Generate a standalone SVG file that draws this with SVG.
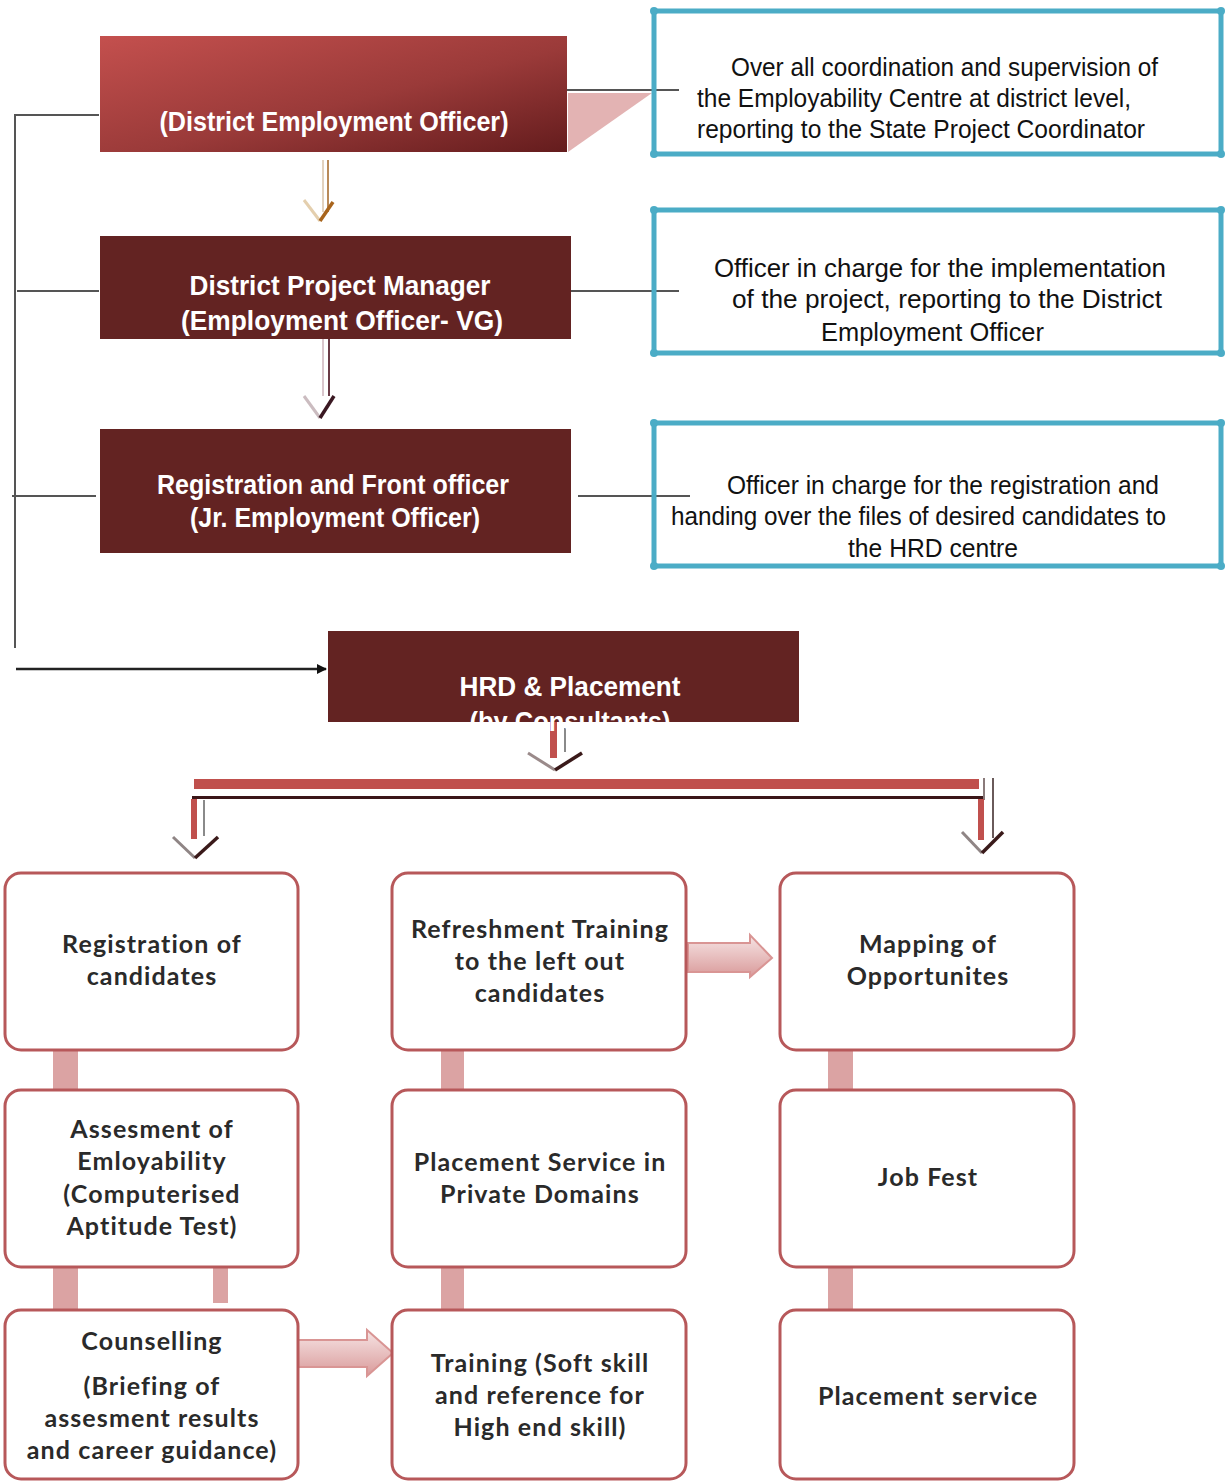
<svg xmlns="http://www.w3.org/2000/svg" width="1226" height="1482" viewBox="0 0 1226 1482">
<defs>
<style>
.mtxt{font-family:"Liberation Sans",Arial,sans-serif;font-weight:bold;font-size:27px;fill:#ffffff;text-anchor:middle}
.ttxt{font-family:"Liberation Sans",Arial,sans-serif;font-size:25px;fill:#111111}
.btxt{font-family:Lato,"Open Sans",sans-serif;font-weight:bold;font-size:25px;letter-spacing:1.1px;fill:#2a2a2a;text-anchor:middle}
.maroon{fill:#632322}
.teal{fill:none;stroke:#4bacc6;stroke-width:5}
.tdot{fill:#4bacc6}
.conn{stroke:#555555;stroke-width:2;fill:none}
.rbox{fill:#ffffff;stroke:#b7585a;stroke-width:3}
.pbar{fill:#dba3a3}
.barrow{fill:url(#pinkGrad);stroke:#d99594;stroke-width:2}
</style>
<linearGradient id="deoGrad" x1="0" y1="0" x2="1" y2="1">
<stop offset="0" stop-color="#c4504e"/>
<stop offset="0.55" stop-color="#9a3a39"/>
<stop offset="1" stop-color="#641c1d"/>
</linearGradient>
<linearGradient id="pinkGrad" x1="0" y1="0" x2="0" y2="1">
<stop offset="0" stop-color="#f6e4e4"/>
<stop offset="0.5" stop-color="#e8c0c0"/>
<stop offset="1" stop-color="#d99a9a"/>
</linearGradient>
<marker id="ah" markerWidth="10" markerHeight="10" refX="9" refY="5" orient="auto" markerUnits="userSpaceOnUse">
<path d="M0,0 L10,5 L0,10 Z" fill="#111111"/>
</marker>
</defs>
<rect x="0" y="0" width="1226" height="1482" fill="#ffffff"/>

<g id="connectors">
<polyline class="conn" points="99,115 15,115 15,648"/>
<line class="conn" x1="17" y1="291" x2="99" y2="291"/>
<line class="conn" x1="12" y1="496" x2="96" y2="496"/>
<line x1="16" y1="669" x2="326" y2="669" stroke="#222222" stroke-width="2.5" marker-end="url(#ah)"/>
<polygon points="568,93 652,93 568,152" fill="#e3b3b3"/>
<line class="conn" x1="567" y1="90" x2="679" y2="90"/>
<line class="conn" x1="571" y1="291" x2="679" y2="291"/>
<line class="conn" x1="578" y1="496" x2="690" y2="496"/>
<!-- arrow DEO to DPM -->
<line x1="323" y1="160" x2="323" y2="212" stroke="#e2d2bf" stroke-width="2"/>
<line x1="328" y1="160" x2="328" y2="212" stroke="#b98a5a" stroke-width="2"/>
<polyline points="304,200 320,221" fill="none" stroke="#e4cfae" stroke-width="3"/>
<polyline points="320,221 333,202" fill="none" stroke="#a8641c" stroke-width="3.5"/>
<!-- arrow DPM to RFO -->
<line x1="323" y1="339" x2="323" y2="396" stroke="#d9c6cc" stroke-width="2"/>
<line x1="329" y1="339" x2="329" y2="396" stroke="#6a3a45" stroke-width="2"/>
<polyline points="304,396 320,418" fill="none" stroke="#cbbcc0" stroke-width="3"/>
<polyline points="320,418 334,396" fill="none" stroke="#3a1822" stroke-width="3.5"/>
<!-- arrow HRD down -->
<rect x="550" y="722" width="7" height="36" fill="#c0504d"/>
<line x1="565" y1="728" x2="565" y2="752" stroke="#8a8a8a" stroke-width="2"/>
<polyline points="528,753 555,770" fill="none" stroke="#9a8a8a" stroke-width="3"/>
<polyline points="555,770 582,753" fill="none" stroke="#3a1a1a" stroke-width="3.5"/>
<!-- horizontal bar -->
<rect x="194" y="779" width="785" height="10" fill="#c0504d"/>
<rect x="192" y="796" width="792" height="3" fill="#3b1618"/>
<line x1="984" y1="778" x2="984" y2="800" stroke="#8a7a7a" stroke-width="2"/>
<line x1="993" y1="778" x2="993" y2="838" stroke="#6a5a5a" stroke-width="2"/>
<!-- left down arrow -->
<rect x="191" y="799" width="6" height="40" fill="#c0504d"/>
<line x1="204" y1="800" x2="204" y2="836" stroke="#8a8a8a" stroke-width="2"/>
<polyline points="173,837 195,858" fill="none" stroke="#8f8585" stroke-width="3"/>
<polyline points="195,858 218,837" fill="none" stroke="#3a1a1a" stroke-width="3.5"/>
<!-- right down arrow -->
<rect x="978" y="799" width="6" height="41" fill="#c0504d"/>
<polyline points="962,832 982,853" fill="none" stroke="#8f8585" stroke-width="3"/>
<polyline points="982,853 1003,832" fill="none" stroke="#3a1a1a" stroke-width="3.5"/>
<!-- pink vertical connectors -->
<rect class="pbar" x="53" y="1049" width="25" height="42"/>
<rect class="pbar" x="441" y="1049" width="23" height="42"/>
<rect class="pbar" x="828" y="1049" width="25" height="42"/>
<rect class="pbar" x="53" y="1266" width="25" height="45"/>
<rect class="pbar" x="213" y="1266" width="15" height="37"/>
<rect class="pbar" x="441" y="1266" width="23" height="45"/>
<rect class="pbar" x="828" y="1266" width="25" height="45"/>
<!-- block arrows -->
<path class="barrow" d="M688,943 L750,943 L750,935 L772,958 L750,977 L750,972 L688,972 Z"/>
<path class="barrow" d="M297,1340 L367,1340 L367,1330 L393,1353 L367,1376 L367,1367 L297,1367 Z"/>
</g>

<g id="node-deo">
<rect x="100" y="36" width="467" height="116" fill="url(#deoGrad)"/>
<text class="mtxt" x="334" y="131" textLength="349" lengthAdjust="spacingAndGlyphs">(District Employment Officer)</text>
</g>
<g id="node-deo-desc">
<rect class="teal" x="654" y="11" width="567" height="143"/>
<circle class="tdot" cx="654" cy="11" r="4"/><circle class="tdot" cx="1221" cy="11" r="4"/>
<circle class="tdot" cx="654" cy="154" r="4"/><circle class="tdot" cx="1221" cy="154" r="4"/>
<text class="ttxt" x="731" y="76" textLength="427" lengthAdjust="spacingAndGlyphs">Over all coordination and supervision of</text>
<text class="ttxt" x="697" y="107" textLength="434" lengthAdjust="spacingAndGlyphs">the Employability Centre at district level,</text>
<text class="ttxt" x="697" y="138" textLength="448" lengthAdjust="spacingAndGlyphs">reporting to the State Project Coordinator</text>
</g>

<g id="node-dpm">
<rect class="maroon" x="100" y="236" width="471" height="103"/>
<text class="mtxt" x="340" y="295" textLength="301" lengthAdjust="spacingAndGlyphs">District Project Manager</text>
<text class="mtxt" x="342" y="330" textLength="322" lengthAdjust="spacingAndGlyphs">(Employment Officer- VG)</text>
</g>
<g id="node-dpm-desc">
<rect class="teal" x="654" y="210" width="567" height="143"/>
<circle class="tdot" cx="654" cy="210" r="4"/><circle class="tdot" cx="1221" cy="210" r="4"/>
<circle class="tdot" cx="654" cy="353" r="4"/><circle class="tdot" cx="1221" cy="353" r="4"/>
<text class="ttxt" x="714" y="277" textLength="452" lengthAdjust="spacingAndGlyphs">Officer in charge for the implementation</text>
<text class="ttxt" x="732" y="308" textLength="430" lengthAdjust="spacingAndGlyphs">of the project, reporting to the District</text>
<text class="ttxt" x="821" y="341" textLength="223" lengthAdjust="spacingAndGlyphs">Employment Officer</text>
</g>

<g id="node-rfo">
<rect class="maroon" x="100" y="429" width="471" height="124"/>
<text class="mtxt" x="333" y="494" textLength="352" lengthAdjust="spacingAndGlyphs">Registration and Front officer</text>
<text class="mtxt" x="335" y="527" textLength="290" lengthAdjust="spacingAndGlyphs">(Jr. Employment Officer)</text>
</g>
<g id="node-rfo-desc">
<rect class="teal" x="654" y="423" width="567" height="143"/>
<circle class="tdot" cx="654" cy="423" r="4"/><circle class="tdot" cx="1221" cy="423" r="4"/>
<circle class="tdot" cx="654" cy="566" r="4"/><circle class="tdot" cx="1221" cy="566" r="4"/>
<text class="ttxt" x="727" y="494" textLength="432" lengthAdjust="spacingAndGlyphs">Officer in charge for the registration and</text>
<text class="ttxt" x="671" y="525" textLength="495" lengthAdjust="spacingAndGlyphs">handing over the files of desired candidates to</text>
<text class="ttxt" x="848" y="557" textLength="170" lengthAdjust="spacingAndGlyphs">the HRD centre</text>
</g>

<g id="node-hrd">
<rect class="maroon" x="328" y="631" width="471" height="91"/>
<text class="mtxt" x="570" y="696" textLength="221" lengthAdjust="spacingAndGlyphs">HRD &amp; Placement</text>
<text class="mtxt" x="570" y="731" textLength="201" lengthAdjust="spacingAndGlyphs">(by Consultants)</text>
</g>

<g id="node-registration">
<rect class="rbox" x="5" y="873" width="293" height="177" rx="16"/>
<text class="btxt" x="152" y="953">Registration of</text>
<text class="btxt" x="152" y="985">candidates</text>
</g>
<g id="node-refreshment">
<rect class="rbox" x="392" y="873" width="294" height="177" rx="16"/>
<text class="btxt" x="540" y="938">Refreshment Training</text>
<text class="btxt" x="540" y="970">to the left out</text>
<text class="btxt" x="540" y="1002">candidates</text>
</g>
<g id="node-mapping">
<rect class="rbox" x="780" y="873" width="294" height="177" rx="16"/>
<text class="btxt" x="928" y="953">Mapping of</text>
<text class="btxt" x="928" y="985">Opportunites</text>
</g>
<g id="node-assesment">
<rect class="rbox" x="5" y="1090" width="293" height="177" rx="16"/>
<text class="btxt" x="152" y="1138">Assesment of</text>
<text class="btxt" x="152" y="1170">Emloyability</text>
<text class="btxt" x="152" y="1203">(Computerised</text>
<text class="btxt" x="152" y="1235">Aptitude Test)</text>
</g>
<g id="node-placement-private">
<rect class="rbox" x="392" y="1090" width="294" height="177" rx="16"/>
<text class="btxt" x="540" y="1171">Placement Service in</text>
<text class="btxt" x="540" y="1203">Private Domains</text>
</g>
<g id="node-jobfest">
<rect class="rbox" x="780" y="1090" width="294" height="177" rx="16"/>
<text class="btxt" x="928" y="1186">Job Fest</text>
</g>
<g id="node-counselling">
<rect class="rbox" x="5" y="1310" width="293" height="169" rx="16"/>
<text class="btxt" x="152" y="1350">Counselling</text>
<text class="btxt" x="152" y="1395">(Briefing of</text>
<text class="btxt" x="152" y="1427">assesment results</text>
<text class="btxt" x="152" y="1459">and career guidance)</text>
</g>
<g id="node-training">
<rect class="rbox" x="392" y="1310" width="294" height="169" rx="16"/>
<text class="btxt" x="540" y="1372">Training (Soft skill</text>
<text class="btxt" x="540" y="1404">and reference for</text>
<text class="btxt" x="540" y="1436">High end skill)</text>
</g>
<g id="node-placement-service">
<rect class="rbox" x="780" y="1310" width="294" height="169" rx="16"/>
<text class="btxt" x="928" y="1405">Placement service</text>
</g>
</svg>
